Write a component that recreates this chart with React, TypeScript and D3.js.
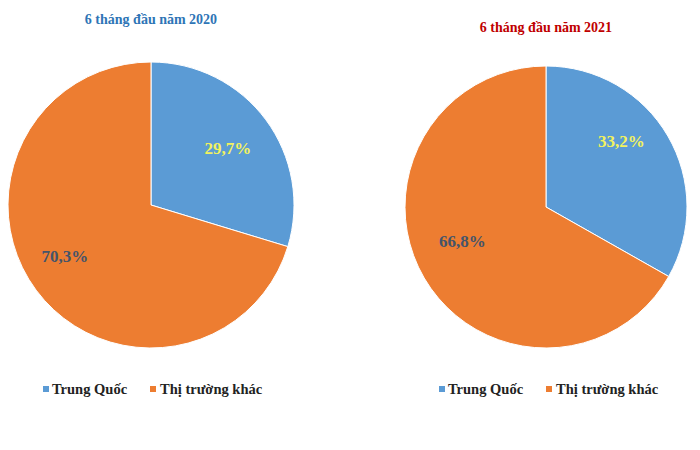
import React from "react";
import * as d3 from "d3";

const categories = ["Trung Quốc", "Thị trường khác"];
const titles = ["6 tháng đầu năm 2020", "6 tháng đầu năm 2021"];
const values2020 = [29.7, 70.3];
const values2021 = [33.2, 66.8];
const labels2020 = ["29,7%", "70,3%"];
const labels2021 = ["33,2%", "66,8%"];

const colors = ["#5B9BD5", "#ED7D31"];
const labelColors = ["#F2F25E", "#44546A"];
const titleColors = ["#2E75B6", "#C00000"];
const font = "'Liberation Serif', 'Times New Roman', serif";

// label placement style: radius factor and angle shift (degrees) per slice
const labelStyle2020 = { radius: [0.67, 0.7], shift: [0, 6] };
const labelStyle2021 = { radius: [0.71, 0.64], shift: [-11, 8] };

function Pie({ cx, cy, r, values, labels, title, titleColor, titleY, legendX, labelStyle }: any) {
  const pie = d3.pie<number>().sort(null).value((d) => d);
  const arcs = pie(values);
  const arc = d3.arc<d3.PieArcDatum<number>>().innerRadius(0).outerRadius(r);
  return (
    <g>
      <text x={cx} y={titleY} textAnchor="middle" fontFamily={font} fontWeight="bold" fontSize={14} fill={titleColor}>
        {title}
      </text>
      <g transform={`translate(${cx},${cy})`}>
        {arcs.map((a, i) => (
          <path key={i} d={arc(a) || ""} fill={colors[i]} stroke="#fff" strokeWidth={1} />
        ))}
        {arcs.map((a, i) => {
          const mid = (a.startAngle + a.endAngle) / 2 + (labelStyle.shift[i] * Math.PI) / 180;
          const lr = r * labelStyle.radius[i];
          const x = lr * Math.sin(mid);
          const y = -lr * Math.cos(mid);
          return (
            <text key={i} x={x} y={y} dy="0.35em" textAnchor="middle" fontFamily={font} fontWeight="bold" fontSize={17} fill={labelColors[i]}>
              {labels[i]}
            </text>
          );
        })}
      </g>
      <g transform={`translate(${legendX},389)`}>
        <rect x={0} y={-3} width={6} height={6} fill={colors[0]} />
        <text x={9} y={0} dy="0.35em" fontFamily={font} fontWeight="bold" fontSize={14.5} fill="#222">
          {categories[0]}
        </text>
        <rect x={107} y={-3} width={6} height={6} fill={colors[1]} />
        <text x={117} y={0} dy="0.35em" fontFamily={font} fontWeight="bold" fontSize={14.5} fill="#222">
          {categories[1]}
        </text>
      </g>
    </g>
  );
}

export default function App() {
  return (
    <svg width={700} height={450} style={{ position: "absolute", left: 0, top: 0, background: "#fff" }}>
      <rect width={700} height={450} fill="#fff" />
      <Pie cx={151} cy={205} r={143} values={values2020} labels={labels2020} title={titles[0]} titleColor={titleColors[0]} titleY={24} legendX={43} labelStyle={labelStyle2020} />
      <Pie cx={546} cy={207} r={141} values={values2021} labels={labels2021} title={titles[1]} titleColor={titleColors[1]} titleY={32} legendX={439} labelStyle={labelStyle2021} />
    </svg>
  );
}
